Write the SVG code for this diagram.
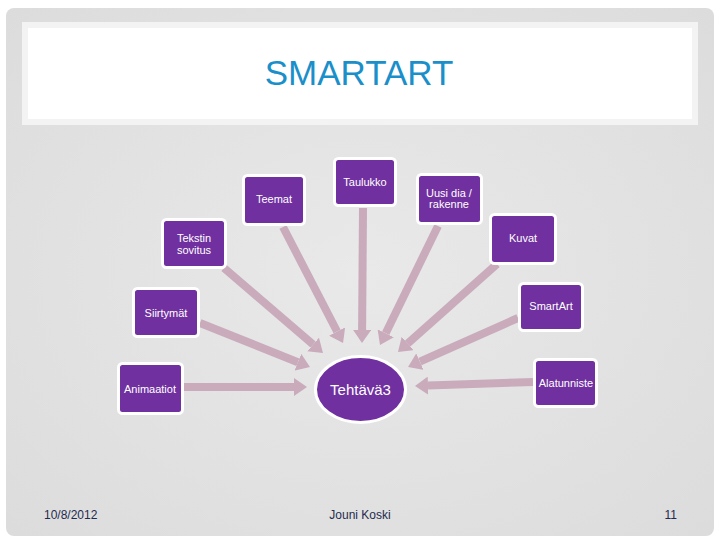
<svg xmlns="http://www.w3.org/2000/svg" width="720" height="540" viewBox="0 0 720 540">
<defs>
<style>
.node rect{fill:#7030a0;stroke:#ffffff;stroke-width:3}
.node ellipse{fill:#7030a0;stroke:#ffffff;stroke-width:3}
.lbl{font-family:"Liberation Sans",Arial,sans-serif;font-size:11px;fill:#ffffff;text-anchor:middle}
.big{font-size:15px}
.arrow{stroke:#c9abbb;stroke-width:8;fill:none;marker-end:url(#head)}
.foot{font-family:"Liberation Sans",Arial,sans-serif;font-size:12px;fill:#1f2a4f}
</style>
<marker id="head" markerUnits="userSpaceOnUse" markerWidth="13" markerHeight="18" viewBox="0 0 13 18" refX="0" refY="9" orient="auto">
<path d="M0,0 L13,9 L0,18 z" fill="#c9abbb"/>
</marker>
<radialGradient id="bg" cx="50%" cy="50%" r="70%">
<stop offset="0" stop-color="#e9e9e9"/>
<stop offset="1" stop-color="#dcdcdc"/>
</radialGradient>
</defs>
<rect x="0" y="0" width="720" height="540" fill="#ffffff"/>
<rect x="6" y="8" width="708" height="528" rx="8" fill="url(#bg)"/>
<rect x="22" y="22" width="676" height="103" fill="#f3f3f3"/>
<rect x="28" y="28" width="664" height="91" fill="#ffffff"/>
<text x="359" y="85" font-family="'Liberation Sans',Arial,sans-serif" font-size="35" fill="#1a8fc9" text-anchor="middle">SMARTART</text>

<g id="connectors">
<line class="arrow" x1="224" y1="268" x2="313.1" y2="344.5"/>
<line class="arrow" x1="283" y1="227" x2="337.1" y2="331.5"/>
<line class="arrow" x1="363" y1="208" x2="362.1" y2="330"/>
<line class="arrow" x1="438" y1="226" x2="385.7" y2="333.3"/>
<line class="arrow" x1="497" y1="264" x2="407.7" y2="343.4"/>
<line class="arrow" x1="518" y1="318" x2="419.9" y2="361.7"/>
<line class="arrow" x1="200" y1="323" x2="297.9" y2="362.2"/>
<line class="arrow" x1="184" y1="387" x2="294" y2="387"/>
<line class="arrow" x1="533" y1="382" x2="428" y2="385.6"/>
</g>

<g id="taulukko" class="node"><rect x="334.5" y="158.5" width="61" height="47" rx="4"/><text class="lbl" x="365" y="186">Taulukko</text></g>
<g id="teemat" class="node"><rect x="243.5" y="175.5" width="61" height="49" rx="4"/><text class="lbl" x="274" y="203">Teemat</text></g>
<g id="tekstin" class="node"><rect x="162.5" y="219.5" width="63" height="48" rx="4"/><text class="lbl" x="194" y="242">Tekstin</text><text class="lbl" x="194" y="254">sovitus</text></g>
<g id="uusidia" class="node"><rect x="417.5" y="174.5" width="64" height="49" rx="4"/><text class="lbl" x="449" y="197">Uusi dia /</text><text class="lbl" x="449" y="208">rakenne</text></g>
<g id="kuvat" class="node"><rect x="490.5" y="214.5" width="65" height="49" rx="4"/><text class="lbl" x="523" y="242">Kuvat</text></g>
<g id="siirtymat" class="node"><rect x="133.5" y="288.5" width="65" height="48" rx="4"/><text class="lbl" x="166" y="317">Siirtymät</text></g>
<g id="animaatiot" class="node"><rect x="118.5" y="363.5" width="64" height="50" rx="4"/><text class="lbl" x="150" y="393">Animaatiot</text></g>
<g id="smartart" class="node"><rect x="519.5" y="283.5" width="63" height="47" rx="4"/><text class="lbl" x="551" y="310">SmartArt</text></g>
<g id="alatunniste" class="node"><rect x="534.5" y="359.5" width="62" height="47" rx="4"/><text class="lbl" x="566" y="387">Alatunniste</text></g>
<g id="tehtava3" class="node"><ellipse cx="360.5" cy="389.5" rx="45" ry="33"/><text class="lbl big" x="360.5" y="395">Tehtävä3</text></g>

<text class="foot" x="44" y="519">10/8/2012</text>
<text class="foot" x="360" y="519" text-anchor="middle">Jouni Koski</text>
<text class="foot" x="677" y="519" text-anchor="end">11</text>
</svg>
